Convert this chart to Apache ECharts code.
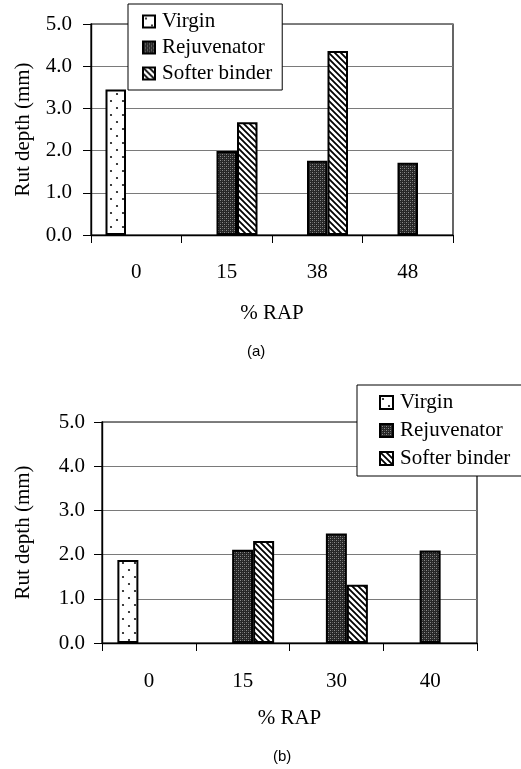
<!DOCTYPE html>
<html>
<head>
<meta charset="utf-8">
<script src="https://cdn.jsdelivr.net/npm/echarts@6/dist/echarts.min.js"></script>
<style>
  html, body { margin: 0; padding: 0; background: #fff; }
  #chart { width: 521px; height: 769px; }
</style>
</head>
<body>
<div id="chart"></div>
<script>
// Rut depth (mm) by % RAP for two mixes
const seriesNames = ['Virgin', 'Rejuvenator', 'Softer binder'];

const catsA = ['0', '15', '38', '48'];
const virginA = [3.45, null, null, null];
const rejuvA = [null, 1.99, 1.76, 1.71];
const softerA = [null, 2.67, 4.36, null];

const catsB = ['0', '15', '30', '40'];
const virginB = [1.88, null, null, null];
const rejuvB = [null, 2.11, 2.48, 2.09];
const softerB = [null, 2.31, 1.32, null];

const yTicks = [0, 1, 2, 3, 4, 5];

// --- fill patterns ---
function makeTile(w, h, draw) {
  const c = document.createElement('canvas');
  c.width = w; c.height = h;
  const ctx = c.getContext('2d');
  draw(ctx, w, h);
  return c;
}
const dotTile = makeTile(12, 14, (ctx, w, h) => {
  ctx.fillStyle = '#fff'; ctx.fillRect(0, 0, w, h);
  ctx.fillStyle = '#111';
  ctx.beginPath(); ctx.arc(3, 3, 1.1, 0, Math.PI * 2); ctx.fill();
  ctx.beginPath(); ctx.arc(9, 10, 1.1, 0, Math.PI * 2); ctx.fill();
});
const stippleTile = makeTile(4, 4, (ctx, w, h) => {
  ctx.fillStyle = '#262626'; ctx.fillRect(0, 0, w, h);
  ctx.fillStyle = '#8c8c8c';
  ctx.fillRect(0, 0, 1, 1);
  ctx.fillRect(2, 2, 1, 1);
  ctx.fillStyle = '#555';
  ctx.fillRect(2, 0, 1, 1);
  ctx.fillRect(0, 2, 1, 1);
});
const hatchTile = makeTile(6, 6, (ctx, w, h) => {
  ctx.fillStyle = '#fff'; ctx.fillRect(0, 0, w, h);
  ctx.strokeStyle = '#000'; ctx.lineWidth = 1.8;
  ctx.beginPath();
  ctx.moveTo(-1, -1); ctx.lineTo(w + 1, h + 1);
  ctx.moveTo(-1, h - 1); ctx.lineTo(1, h + 1);
  ctx.moveTo(w - 1, -1); ctx.lineTo(w + 1, 1);
  ctx.stroke();
});
const fills = [
  { image: dotTile, repeat: 'repeat' },
  { image: stippleTile, repeat: 'repeat' },
  { image: hatchTile, repeat: 'repeat' }
];

const serif = 'Liberation Serif, Times New Roman, serif';
const FS = 21;

function yAxisFor(gridIndex, gap, labelMargin) {
  return {
    type: 'value', gridIndex: gridIndex, min: 0, max: 5, interval: 1,
    name: 'Rut depth (mm)', nameLocation: 'middle', nameGap: gap,
    nameTextStyle: { fontFamily: serif, fontSize: FS, color: '#000' },
    axisLine: { show: true, lineStyle: { color: '#000', width: 1.4 } },
    axisTick: { show: true, inside: false, length: 8, lineStyle: { color: '#000' } },
    axisLabel: {
      margin: labelMargin, fontFamily: serif, fontSize: FS, color: '#000',
      formatter: v => yTicks.includes(v) ? v.toFixed(1) : ''
    },
    splitLine: { show: true, lineStyle: { color: '#7a7a7a', width: 1 } }
  };
}
function xAxisFor(gridIndex, cats, labelMargin, nameGap) {
  return {
    type: 'category', gridIndex: gridIndex, data: cats, boundaryGap: true,
    name: '% RAP', nameLocation: 'middle', nameGap: nameGap,
    nameTextStyle: { fontFamily: serif, fontSize: FS, color: '#000' },
    axisLine: { show: true, lineStyle: { color: '#000', width: 1.4 } },
    axisTick: { show: true, alignWithLabel: false, length: 8, lineStyle: { color: '#000' } },
    axisLabel: { margin: labelMargin, fontFamily: serif, fontSize: FS, color: '#000' },
    splitLine: { show: false }
  };
}
function barSeries(name, idx, data, axisIndex, width) {
  return {
    type: 'bar', name: name, data: data,
    xAxisIndex: axisIndex, yAxisIndex: axisIndex,
    barWidth: width, barGap: '0%',
    itemStyle: { color: fills[idx], borderColor: '#000', borderWidth: 2 },
    emphasis: { disabled: true },
    animation: false
  };
}
function legendFor(left, top, size, gap, padding) {
  return {
    orient: 'vertical', left: left, top: top,
    data: seriesNames,
    itemWidth: size, itemHeight: size, itemGap: gap,
    padding: padding,
    backgroundColor: '#fff', borderColor: '#000', borderWidth: 1,
    selectedMode: false,
    icon: 'rect',
    textStyle: { fontFamily: serif, fontSize: FS, color: '#000', padding: [0, 0, 0, 2] }
  };
}

const chart = echarts.init(document.getElementById('chart'), null, { renderer: 'canvas' });
chart.setOption({
  animation: false,
  backgroundColor: '#fff',
  grid: [
    { left: 91, right: 68, top: 24, bottom: 534, show: true, borderColor: '#000', borderWidth: 1.2, backgroundColor: 'transparent' },
    { left: 102, right: 44, top: 422, bottom: 126, show: true, borderColor: '#000', borderWidth: 1.2, backgroundColor: 'transparent' }
  ],
  xAxis: [ xAxisFor(0, catsA, 27, 68), xAxisFor(1, catsB, 28, 65) ],
  yAxis: [ yAxisFor(0, 57, 19), yAxisFor(1, 68, 17) ],
  legend: [
    legendFor(128, 4, 12, 5, [7, 10, 6, 14]),
    legendFor(357, 385, 13, 7, [7, 12, 7, 22])
  ],
  series: [
    barSeries(seriesNames[0], 0, virginA, 0, 20.5),
    barSeries(seriesNames[1], 1, rejuvA, 0, 20.5),
    barSeries(seriesNames[2], 2, softerA, 0, 20.5),
    barSeries(seriesNames[0], 0, virginB, 1, 21),
    barSeries(seriesNames[1], 1, rejuvB, 1, 21),
    barSeries(seriesNames[2], 2, softerB, 1, 21)
  ],
  graphic: [
    { type: 'text', left: 247, top: 344, style: { text: '(a)', font: '15px Liberation Sans, Arial, sans-serif', fill: '#000' } },
    { type: 'text', left: 273, top: 749, style: { text: '(b)', font: '15px Liberation Sans, Arial, sans-serif', fill: '#000' } }
  ]
});
</script>
</body>
</html>
